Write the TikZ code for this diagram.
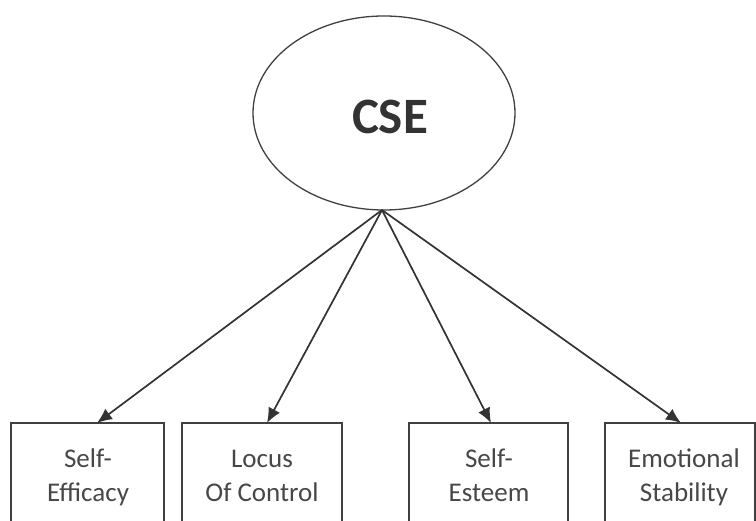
\documentclass[tikz,border=0pt]{standalone}
\usepackage{fontspec}
\setmainfont{Carlito}
\usetikzlibrary{arrows.meta,shapes.geometric}
\begin{document}
\begin{tikzpicture}[x=1pt,y=-1pt,
  latent/.style={draw=black!75,line width=1.3pt,ellipse,minimum width=262pt,minimum height=194pt,inner sep=0pt},
  indicator/.style={draw=black!75,line width=1.2pt},
  itemtext/.style={font=\fontsize{27}{34}\selectfont,text=black!72,align=center,anchor=base,inner sep=0pt},
  loading/.style={draw=black!80,line width=1.7pt,-{Latex[length=15pt,width=13pt]}}]
  \clip (0,0) rectangle (756,521);
  \useasboundingbox (0,0) rectangle (756,521);
  % latent factor
  \node[latent] (cse) at (384,113) {};
  \node[font=\fontsize{51}{51}\bfseries\selectfont,text=black!80] (cselabel) at (390,117) {CSE};
  \coordinate (src) at (382,210);
  % indicator boxes (they run past the lower edge)
  \draw[indicator] (11,540) -- (11,423) -- (164,423) -- (164,540);
  \draw[indicator] (182,540) -- (182,423) -- (342,423) -- (342,540);
  \draw[indicator] (409,540) -- (409,423) -- (568,423) -- (568,540);
  \draw[indicator] (605,540) -- (605,423) -- (755,423) -- (755,540);
  \coordinate (t1) at (97,423);
  \coordinate (t2) at (267,423);
  \coordinate (t3) at (491,423);
  \coordinate (t4) at (681,423);
  % labels (anchored on the baseline of the second line)
  \node[itemtext] (se) at (88,502) {Self-\\Efficacy};
  \node[itemtext] (loc) at (262,502) {Locus\\Of Control};
  \node[itemtext] (est) at (489,502) {Self-\\Esteem};
  \node[itemtext] (es) at (684,502) {Emotional\\Stability};
  % loadings
  \draw[loading] (src) -- (t1);
  \draw[loading] (src) -- (t2);
  \draw[loading] (src) -- (t3);
  \draw[loading] (src) -- (t4);
\end{tikzpicture}
\end{document}
